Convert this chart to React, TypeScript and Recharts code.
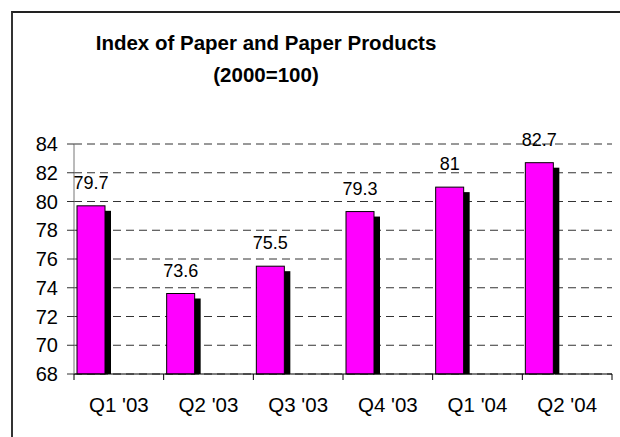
import React from 'react';
import { BarChart, Bar, XAxis, YAxis, CartesianGrid, LabelList } from 'recharts';

const categories = ["Q1 '03", "Q2 '03", "Q3 '03", "Q4 '03", "Q1 '04", "Q2 '04"];
const indexValues = [79.7, 73.6, 75.5, 79.3, 81, 82.7];
const yTicks = [68, 70, 72, 74, 76, 78, 80, 82, 84];

const data = categories.map((c, i) => ({ name: c, value: indexValues[i] }));

const FONT = '"Liberation Sans", Arial, sans-serif';
const X_TICK_SIZE = 6;
const X_TICK_MARGIN = 17;

const ShadowBar = (props: any) => {
  const { x, y, width, height } = props;
  if (width == null || height == null) return null;
  return (
    <g>
      <rect x={x + 6} y={y + 5} width={width} height={Math.max(0, height - 5)} fill="#000000" />
      <rect x={x} y={y} width={width} height={height} fill="#FF00FF" stroke="#000000" strokeWidth={1} />
    </g>
  );
};

const SpacerBar = () => <g />;

const CategoryTick = (props: any) => {
  const { x, y, payload, index, visibleTicksCount, width } = props;
  const half =
    payload && typeof payload.offset === 'number' && payload.offset > 0
      ? payload.offset
      : width / (2 * visibleTicksCount);
  const axisY = y - X_TICK_MARGIN - X_TICK_SIZE;
  const left = x - half;
  const right = x + half;
  return (
    <g>
      <line x1={left} x2={left} y1={axisY} y2={axisY + X_TICK_SIZE} stroke="#000" />
      {index === visibleTicksCount - 1 && (
        <line x1={right} x2={right} y1={axisY} y2={axisY + X_TICK_SIZE} stroke="#000" />
      )}
      <text x={x} y={y} dy="0.71em" textAnchor="middle" fill="#000" fontSize={20.5} fontFamily={FONT}>
        {payload.value}
      </text>
    </g>
  );
};

export default function App() {
  return (
    <div
      style={{
        position: 'fixed',
        left: 0,
        top: 0,
        width: 620,
        height: 437,
        overflow: 'hidden',
        background: '#fff',
      }}
    >
      <div
        style={{
          position: 'absolute',
          left: 11,
          top: 11,
          width: 700,
          height: 500,
          borderLeft: '2px solid #333',
          borderTop: '2px solid #222',
          boxSizing: 'border-box',
        }}
      />
      <div
        style={{
          position: 'absolute',
          left: 0,
          top: 27,
          width: 532,
          textAlign: 'center',
          fontFamily: FONT,
          fontWeight: 'bold',
          fontSize: 20.5,
          lineHeight: '31.5px',
          color: '#000',
        }}
      >
        <div>Index of Paper and Paper Products</div>
        <div>(2000=100)</div>
      </div>
      <div style={{ position: 'absolute', left: 0, top: 0 }}>
        <BarChart
          width={620}
          height={437}
          data={data}
          margin={{ top: 144, right: 8, bottom: 0, left: 0 }}
          barGap={0}
          accessibilityLayer={false}
          style={{ fontFamily: FONT, outline: 'none' }}
        >
          <CartesianGrid vertical={false} stroke="#333" strokeDasharray="8 5" />
          <XAxis
            dataKey="name"
            height={63}
            axisLine={{ stroke: '#000' }}
            tickLine={false}
            tickSize={X_TICK_SIZE}
            tickMargin={X_TICK_MARGIN}
            interval={0}
            tick={<CategoryTick />}
          />
          <YAxis
            width={74}
            domain={[68, 84]}
            ticks={yTicks}
            interval={0}
            tickSize={7}
            tickMargin={9}
            axisLine={{ stroke: '#777' }}
            tickLine={{ stroke: '#333' }}
            tick={{ fill: '#000', fontSize: 20, fontFamily: FONT }}
          />
          <Bar dataKey="value" barSize={28} shape={ShadowBar} activeBar={false} isAnimationActive={false}>
            <LabelList dataKey="value" position="top" offset={17} fill="#000" fontSize={18} fontFamily={FONT} />
          </Bar>
          <Bar
            dataKey="value"
            barSize={55.67}
            shape={SpacerBar}
            activeBar={false}
            isAnimationActive={false}
            legendType="none"
          />
        </BarChart>
      </div>
    </div>
  );
}
